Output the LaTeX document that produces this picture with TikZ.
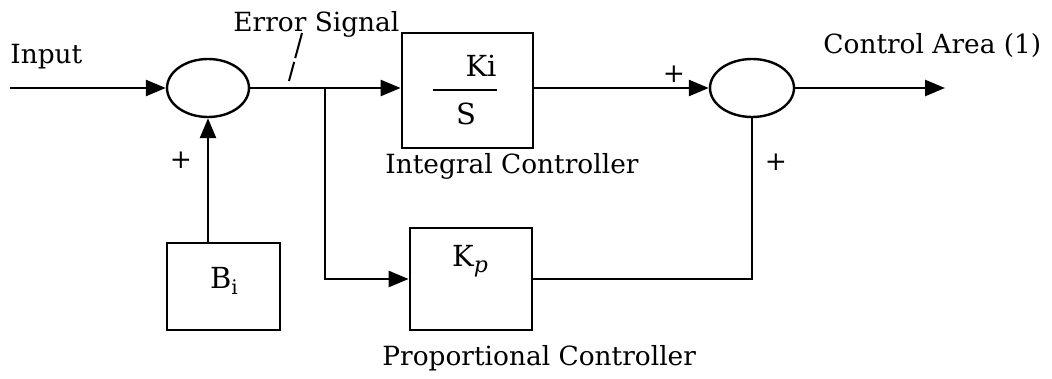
\documentclass[tikz,border=0pt]{standalone}
\usepackage{fontspec}
\setmainfont{DejaVu Serif}
\usetikzlibrary{arrows.meta,shapes.geometric,calc}
\begin{document}
\begin{tikzpicture}[x=0.5pt,y=-0.5pt,
  lbl/.style={font=\fontsize{13.2}{16}\selectfont, inner sep=0pt},
  blk/.style={font=\fontsize{14.5}{17}\selectfont, inner sep=0pt},
  sumnode/.style={draw, ellipse, line width=1.2pt, minimum width=41pt, minimum height=29pt, inner sep=0pt},
  blockbox/.style={draw, rectangle, line width=1.4pt, inner sep=0pt},
  arr/.style={-{Triangle[length=10pt,width=8pt]}},
  wire/.style={line width=1.3pt}]
\useasboundingbox (0,0) rectangle (1052,379);

% nodes
\node[sumnode] (sum1) at (208,88) {};
\node[sumnode, minimum width=42pt] (sum2) at (752,88) {};
\node[blockbox, minimum width=65.5pt, minimum height=57.5pt] (intbox) at (467.5,90.5) {};
\node[blockbox, minimum width=61pt, minimum height=51pt] (kp) at (471,279) {};
\node[blockbox, minimum width=56.5pt, minimum height=43.5pt] (bi) at (223.5,286.5) {};

\coordinate (in) at (10,88);
\coordinate (out) at (945,88);
\coordinate (br) at (325,88);
\coordinate (es1) at (302,33);
\coordinate (es2) at (289,81);
\coordinate (frL) at (433,90);
\coordinate (frR) at (497,90);

% block contents
\node[blk] (ki) at (481,66) {Ki};
\draw[line width=1.2pt] (frL) -- (frR);
\node[blk] (s) at (466,114) {S};
\node[blk] (kpt) at (470,261) {K\raisebox{-0.4ex}{\fontsize{11}{13}\selectfont\itshape p}};
\node[blk] (bit) at (224,281) {B\raisebox{-0.35ex}{\fontsize{10}{12}\selectfont i}};

% labels
\node[lbl, anchor=west] (tin) at (10,57) {Input};
\node[lbl, anchor=west] (terr) at (233,24) {Error Signal};
\node[lbl, anchor=west] (tint) at (385,166) {Integral Controller};
\node[lbl, anchor=west] (tca) at (823,46) {Control Area (1)};
\node[lbl, anchor=west] (tprop) at (382,358) {Proportional Controller};
\node[lbl] (p1) at (674,74) {+};
\node[lbl] (p2) at (776,162) {+};
\node[lbl] (p3) at (181,160) {+};

% connectors
\draw[wire, arr] (in) -- (sum1.west);
\draw[wire, arr] (sum1.east) -- (intbox.west |- br);
\draw[wire, arr] (br) |- (kp.west);
\draw[wire, arr] (intbox.east |- sum2.west) -- (sum2.west);
\draw[wire, arr] (sum2.east) -- (out);
\draw[wire] (kp.east) -| (sum2.south);
\draw[wire, arr] (sum1.south |- bi.north) -- (sum1.south);
\draw[line width=1pt, dash pattern=on 13pt off 2pt] (es1) -- (es2);
\end{tikzpicture}
\end{document}
